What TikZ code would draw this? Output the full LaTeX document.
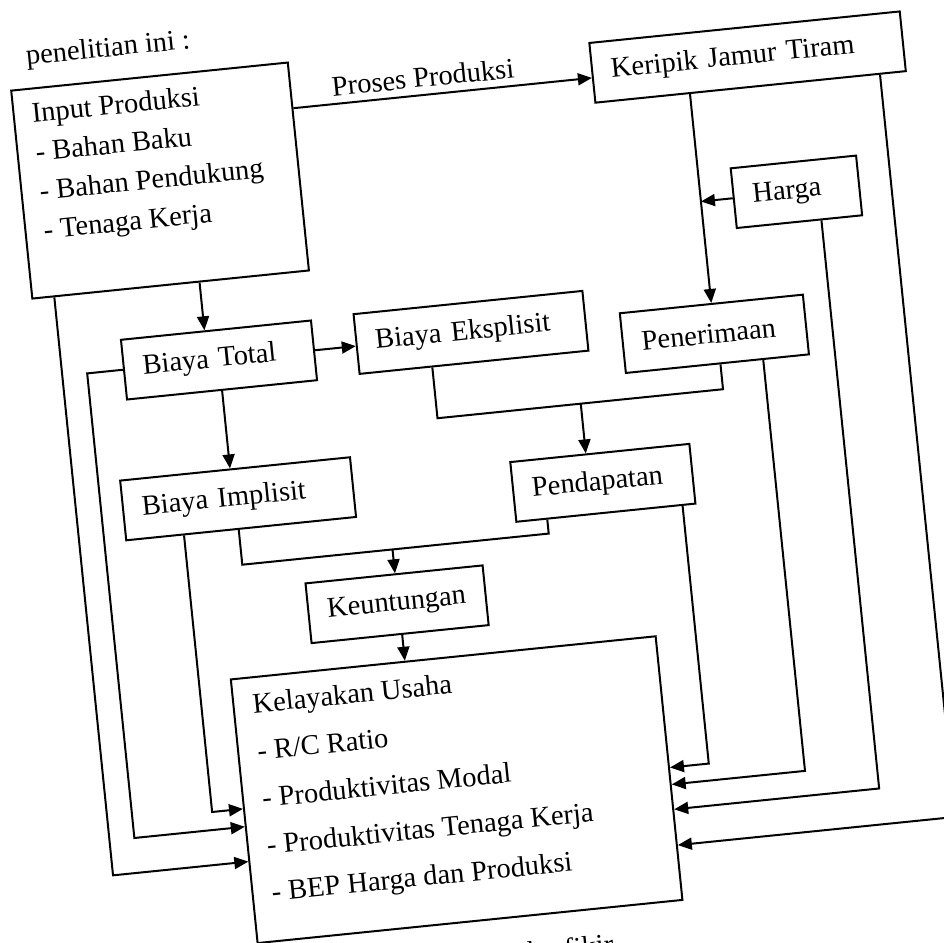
\documentclass[tikz,border=0pt]{standalone}
\usepackage{fontspec}
\setmainfont{Liberation Serif}
\usetikzlibrary{arrows.meta,calc}
\begin{document}
\begin{tikzpicture}[x=1pt,y=-1pt,
  every node/.style={font=\fontsize{28.5}{34}\selectfont},
  box/.style={draw, line width=2pt, inner xsep=19pt, inner ysep=0pt,
              minimum height=60pt, align=left, anchor=north west},
  frame/.style={draw, line width=2pt, inner sep=0pt, anchor=north west},
  txt/.style={anchor=base west, inner sep=0pt},
  link/.style={line width=2pt},
  arr/.style={link, -{Triangle[length=14pt,width=12pt]}}]

\useasboundingbox (0,0) rectangle (944,942);
\fill[white] (0,0) rectangle (944,942);
\clip (0,0) rectangle (944,942);

% the whole page sits slightly tilted
\begin{scope}[transform canvas={rotate around={5.8:(472,471)}}]

\node[txt] (intro) at (70,22) {penelitian ini :};

% boxes
\node[frame, minimum width=278pt, minimum height=209pt] (input) at (51,45) {};
\node[txt] (in0) at (70,80)  {Input Produksi};
\node[txt] (in1t) at (70,119) {- Bahan Baku};
\node[txt] (in2t) at (70,158) {- Bahan Pendukung};
\node[txt] (in3t) at (70,197) {- Tenaga Kerja};

\node[box, text width=274pt] (kjt)    at (631,56)  {\mbox{Keripik Jamur Tiram}};
\node[box, text width=88pt]  (harga)  at (759,195) {\mbox{Harga}};
\node[box, text width=146pt] (terima) at (634,328) {\mbox{Penerimaan}};
\node[box, text width=192pt] (eks)    at (369,302) {\mbox{Biaya Eksplisit}};
\node[box, text width=153pt] (total)  at (135,304) {\mbox{Biaya Total}};
\node[box, text width=193pt] (imp)    at (120,444) {\mbox{Biaya Implisit}};
\node[box, text width=142pt] (dapat)  at (510,465) {\mbox{Pendapatan}};
\node[box, text width=140pt] (untung) at (294,565) {\mbox{Keuntungan}};

\node[frame, minimum width=427pt, minimum height=265pt] (layak) at (210,653) {};
\node[txt] (ly0) at (230,690)   {Kelayakan Usaha};
\node[txt] (ly1) at (230,737)   {- R/C Ratio};
\node[txt] (ly2) at (230,784.5) {- Produktivitas Modal};
\node[txt] (ly3) at (230,832)   {- Produktivitas Tenaga Kerja};
\node[txt] (ly4) at (230,879)   {- BEP Harga dan Produksi};

\node[anchor=base east, inner sep=0pt] (cap) at (565,965) {kerangka berfikir};

% production flow
\coordinate (pp) at ([yshift=-5pt]kjt.west);
\draw[arr] (pp -| input.east) -- (pp);
\node[anchor=base, inner sep=0pt] (proses) at (463,84) {Proses Produksi};

\coordinate (a1) at ([xshift=-11.5pt]total.north);
\draw[arr] (a1 |- input.south) -- (a1);
\draw[arr] (total.east) -- (total.east -| eks.west);
\draw[arr] (total.south) -- (total.south |- imp.north);
\draw[arr] (terima.north |- kjt.south) -- (terima.north);
\draw[arr] (harga.west) -- (harga.west -| terima.north);

% explicit cost + revenue -> income
\coordinate (e1) at ([xshift=74pt]eks.south west);
\coordinate (r1) at ([xshift=3pt]terima.south);
\coordinate (j1) at (587,415);
\draw[link] (e1) |- (j1) -| (r1);
\draw[arr] (j1) -- (j1 |- dapat.north);

% implicit cost + income -> profit
\coordinate (i1) at ([xshift=-2.5pt]imp.south);
\coordinate (d1) at ([xshift=32pt]dapat.south west);
\coordinate (j2) at (385,541);
\draw[link] (i1) |- (j2) -| (d1);
\draw[arr] (j2) -- (j2 |- untung.north);
\coordinate (u1) at ([xshift=2pt]untung.south);
\draw[arr] (u1) -- (u1 |- layak.north);

% feeds into the feasibility box, left side
\coordinate (in1) at ([xshift=23pt]input.south west);
\coordinate (k3) at ([yshift=-50.5pt]layak.west);
\draw[arr] (in1) |- (k3);
\coordinate (k2) at ([yshift=-15.5pt]layak.west);
\draw[arr] (total.west) -- ++(-36,0) |- (k2);
\coordinate (i2) at ([xshift=59pt]imp.south west);
\coordinate (k1) at ([yshift=2.5pt]layak.west);
\draw[arr] (i2) |- (k1);

% feeds into the feasibility box, right side
\coordinate (d2) at ([xshift=-14pt]dapat.south east);
\coordinate (k4) at ([yshift=0.5pt]layak.east);
\draw[arr] (d2) |- (k4);
\coordinate (r2) at ([xshift=-47pt]terima.south east);
\coordinate (k5) at ([yshift=-16.5pt]layak.east);
\draw[arr] (r2) |- (k5);
\coordinate (h2) at ([xshift=-42pt]harga.south east);
\coordinate (k6) at ([yshift=-41.5pt]layak.east);
\draw[arr] (h2) |- (k6);
\coordinate (c2) at ([xshift=-27pt]kjt.south east);
\coordinate (k7) at ([yshift=-77.5pt]layak.east);
\draw[arr] (c2) |- (k7);

\end{scope}
\end{tikzpicture}
\end{document}
